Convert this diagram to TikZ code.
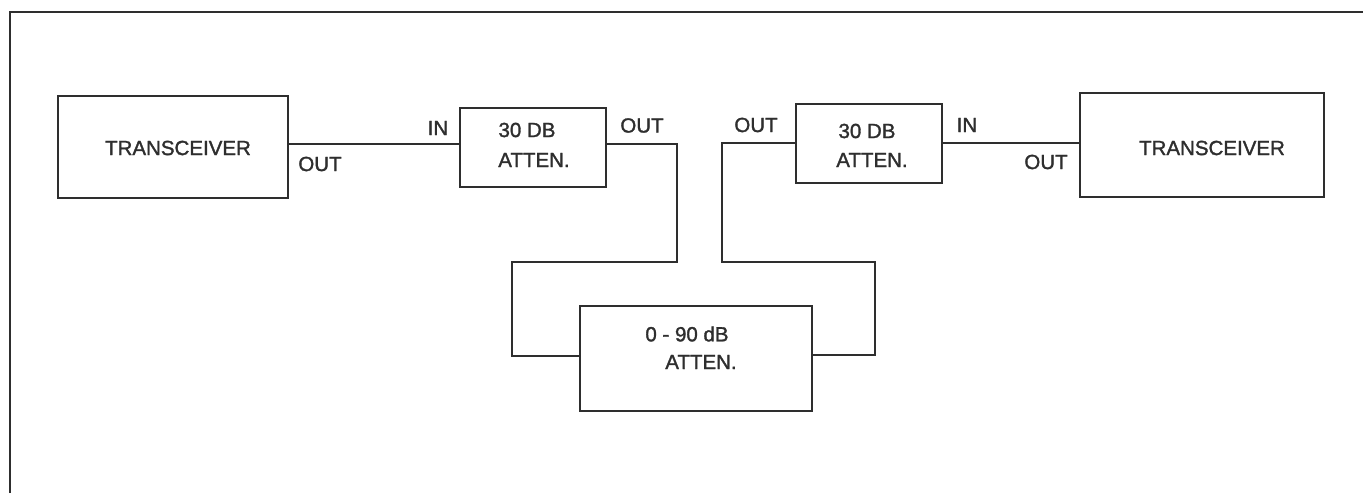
\documentclass[tikz,border=0pt]{standalone}
\usepackage{fontspec}
\setmainfont{Liberation Sans}
\newfontfamily\labfont[FakeBold=1.5]{Liberation Sans}
\definecolor{ink}{gray}{0.18}
\begin{document}
\begin{tikzpicture}[x=1pt,y=-1pt,
  box/.style={draw=ink,line width=1.8pt,rectangle,inner sep=0pt},
  txt/.style={text=ink,font=\labfont\fontsize{20.5}{22}\selectfont,inner sep=0pt,anchor=center},
  wire/.style={draw=ink,line width=1.6pt}]
\useasboundingbox (0,0) rectangle (1363,493);
% outer frame (top and left edges visible)
\draw[ink,line width=2.6pt] (10,493) -- (10,12) -- (1363,12);
% boxes
\node[box,minimum width=230pt,minimum height=102pt] (LT) at (173,147) {};
\node[box,minimum width=146pt,minimum height=79pt] (LA) at (533,147.5) {};
\node[box,minimum width=146pt,minimum height=79pt] (RA) at (869,143.5) {};
\node[box,minimum width=244pt,minimum height=104pt] (RT) at (1202,145) {};
\node[box,minimum width=232pt,minimum height=105pt] (CB) at (696,358.5) {};
% box texts
\node[txt] (LTt) at (178,148) {TRANSCEIVER};
\node[txt] (RTt) at (1212,148) {TRANSCEIVER};
\node[txt] (LAt1) at (527,130) {30 DB};
\node[txt] (LAt2) at (534,160) {ATTEN.};
\node[txt] (RAt1) at (867,131) {30 DB};
\node[txt] (RAt2) at (872,160) {ATTEN.};
\node[txt] (CBt1) at (687,334) {0 - 90 dB};
\node[txt] (CBt2) at (701,362) {ATTEN.};
% port labels
\node[txt] (l1) at (438,128) {IN};
\node[txt] (l2) at (320,164) {OUT};
\node[txt] (l3) at (642,125.5) {OUT};
\node[txt] (l4) at (756,125) {OUT};
\node[txt] (l5) at (967,125) {IN};
\node[txt] (l6) at (1046,162) {OUT};
% routing points
\coordinate (a1) at (677,262);
\coordinate (a2) at (512,262);
\coordinate (a3) at (512,356);
\coordinate (b1) at (875,355);
\coordinate (b2) at (875,262);
\coordinate (b3) at (722,262);
% connectors
\draw[wire] (LT.east |- 0,144) -- (LA.west |- 0,144);
\draw[wire] (LA.east |- 0,144) -| (a1) -- (a2) -- (a3) -- (CB.west |- a3);
\draw[wire] (CB.east |- b1) -- (b1) -- (b2) -- (b3) |- (RA.west |- 0,143);
\draw[wire] (RA.east |- 0,143) -- (RT.west |- 0,143);
\end{tikzpicture}
\end{document}
